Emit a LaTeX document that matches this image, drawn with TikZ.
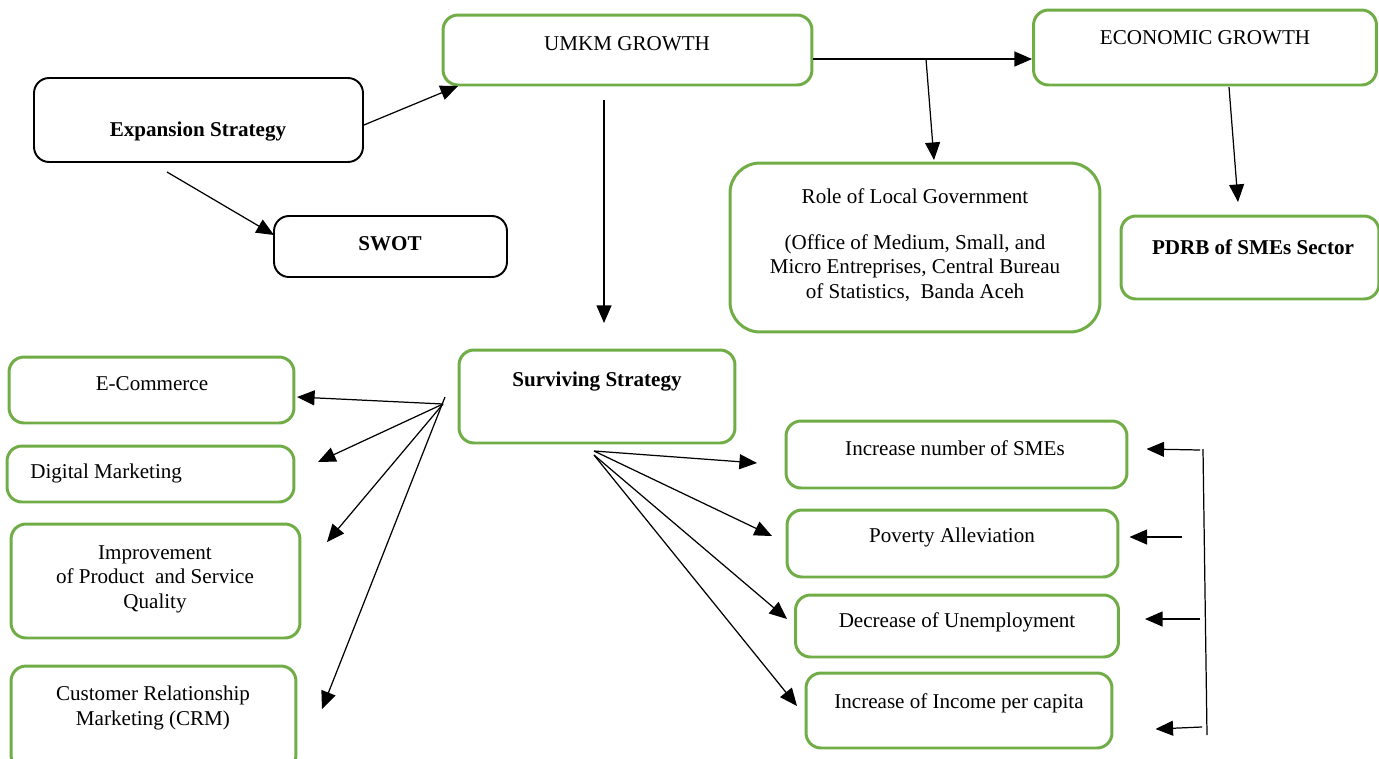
\documentclass[tikz,border=0pt]{standalone}
\usepackage{fontspec}
\setmainfont{Liberation Serif}
\usetikzlibrary{arrows.meta}
\definecolor{boxgreen}{RGB}{112,173,71}

\begin{document}
\begin{tikzpicture}[x=0.02cm,y=-0.02cm,
every node/.style={font=\fontsize{12}{14}\selectfont},
gbox/.style={draw=boxgreen,line width=1.7pt,rounded corners=0.3cm,inner sep=0pt},
kbox/.style={draw=black,line width=1.1pt,rounded corners=0.3cm,inner sep=0pt},
txt/.style={inner sep=0pt,align=center,yshift=-0.04cm},
arr/.style={-{Triangle[length=10pt,width=8.5pt]},line width=0.7pt}]
\useasboundingbox (0,0) rectangle (1379,758);
\clip (0,0) rectangle (1379,758);
\node (expand) at (198.5,120) [kbox,minimum width=6.58cm,minimum height=1.68cm] {};
\node (expandtxt) at (198,130) [txt] {\textbf{Expansion Strategy}};
\node (swot) at (390.5,246.5) [kbox,minimum width=4.66cm,minimum height=1.22cm] {};
\node (swottxt) at (390,242) [txt] {\textbf{SWOT}};
\node (umkm) at (627.5,50) [gbox,minimum width=7.38cm,minimum height=1.4cm] {};
\node (umkmtxt) at (627,42) [txt] {UMKM GROWTH};
\node (econ) at (1205,47.5) [gbox,minimum width=6.86cm,minimum height=1.5cm] {};
\node (econtxt) at (1205,36) [txt] {ECONOMIC GROWTH};
\node (role) at (915,247.5) [gbox,rounded corners=0.6cm,minimum width=7.4cm,minimum height=3.38cm] {};
\node (roletxt) at (915,243) [txt] {Role of Local Government\\[12pt]
(Office of Medium, Small, and\\ Micro Entreprises, Central Bureau\\ of Statistics,\ \ Banda Aceh};
\node (pdrb) at (1250,257.5) [gbox,minimum width=5.16cm,minimum height=1.66cm] {};
\node (pdrbtxt) at (1253,245) [txt] {\textbf{PDRB of SMEs Sector}};
\node (surv) at (597,396.5) [gbox,minimum width=5.52cm,minimum height=1.86cm] {};
\node (survtxt) at (597,380) [txt] {\textbf{Surviving Strategy}};
\node (ecom) at (151.5,390) [gbox,minimum width=5.7cm,minimum height=1.32cm] {};
\node (ecomtxt) at (152,382) [txt] {E-Commerce};
\node (digi) at (150.5,474) [gbox,minimum width=5.74cm,minimum height=1.12cm] {};
\node (digitxt) at (30,471) [txt,anchor=west] {Digital Marketing};
\node (impr) at (155.5,581) [gbox,minimum width=5.78cm,minimum height=2.28cm] {};
\node (imprtxt) at (155,577) [txt] {Improvement\\ of Product\ \ and Service\\ Quality};
\node (crm) at (153.5,718) [gbox,minimum width=5.7cm,minimum height=2.08cm] {};
\node (crmtxt) at (153,706) [txt] {Customer Relationship\\ Marketing (CRM)};
\node (incsme) at (956.5,454.5) [gbox,minimum width=6.82cm,minimum height=1.34cm] {};
\node (incsmetxt) at (955,446) [txt] {Increase number of SMEs};
\node (pov) at (952.5,543.5) [gbox,minimum width=6.62cm,minimum height=1.34cm] {};
\node (povtxt) at (952,535) [txt] {Poverty Alleviation};
\node (unemp) at (957,626) [gbox,minimum width=6.46cm,minimum height=1.24cm] {};
\node (unemptxt) at (957,620) [txt] {Decrease of Unemployment};
\node (income) at (959,710.5) [gbox,minimum width=6.12cm,minimum height=1.5cm] {};
\node (incometxt) at (959,701) [txt] {Increase of Income per capita};
\coordinate (umkmin) at (458,86);
\coordinate (swotout) at (167,172);
\coordinate (swotin) at (274,235);
\coordinate (branch) at (926,59);
\coordinate (rolein) at (934,160);
\coordinate (econout) at (1229,87);
\coordinate (pdrbin) at (1238,202);
\coordinate (umkmdown) at (604,100);
\coordinate (survin) at (604,323);
\draw[arr] ([yshift=-0.1cm]expand.east) -- (umkmin);
\draw[arr] (swotout) -- (swotin);
\draw[arr] (umkm.east |- branch) -- (econ.west |- branch);
\draw[arr] (branch) -- (rolein);
\draw[arr] (econout) -- (pdrbin);
\draw[arr] (umkmdown) -- (survin);
\coordinate (lfan) at (443,404);
\coordinate (lfantop) at (445,397);
\coordinate (ecomin) at (297,397);
\coordinate (digiin) at (318,462);
\coordinate (imprin) at (327,542);
\coordinate (crmin) at (322,709);
\draw[arr] (lfan) -- (ecomin);
\draw[arr] (lfan) -- (digiin);
\draw[arr] (lfan) -- (imprin);
\draw[arr] (lfantop) -- (crmin);
\coordinate (rfana) at (594,451);
\coordinate (rfanb) at (594,455);
\coordinate (incsmein) at (757,463);
\coordinate (povin) at (772,536);
\coordinate (unempin) at (787,619);
\coordinate (incomein) at (797,706);
\draw[arr] (rfana) -- (incsmein);
\draw[arr] (rfana) -- (povin);
\draw[arr] (rfanb) -- (unempin);
\draw[arr] (rfanb) -- (incomein);
\coordinate (brtop) at (1203,449);
\coordinate (brbot) at (1207,735);
\draw[line width=0.7pt] (brtop) -- (brbot);
\draw[arr] (1200,450) -- ([xshift=0.36cm]incsme.east |- 0,449);
\draw[arr] (1182,537) -- ([xshift=0.2cm]pov.east |- 0,537);
\draw[arr] (1200,619) -- ([xshift=0.5cm]unemp.east |- 0,619);
\draw[arr] (1202,727) -- ([xshift=0.84cm]income.east |- 0,729);
\end{tikzpicture}
\end{document}
